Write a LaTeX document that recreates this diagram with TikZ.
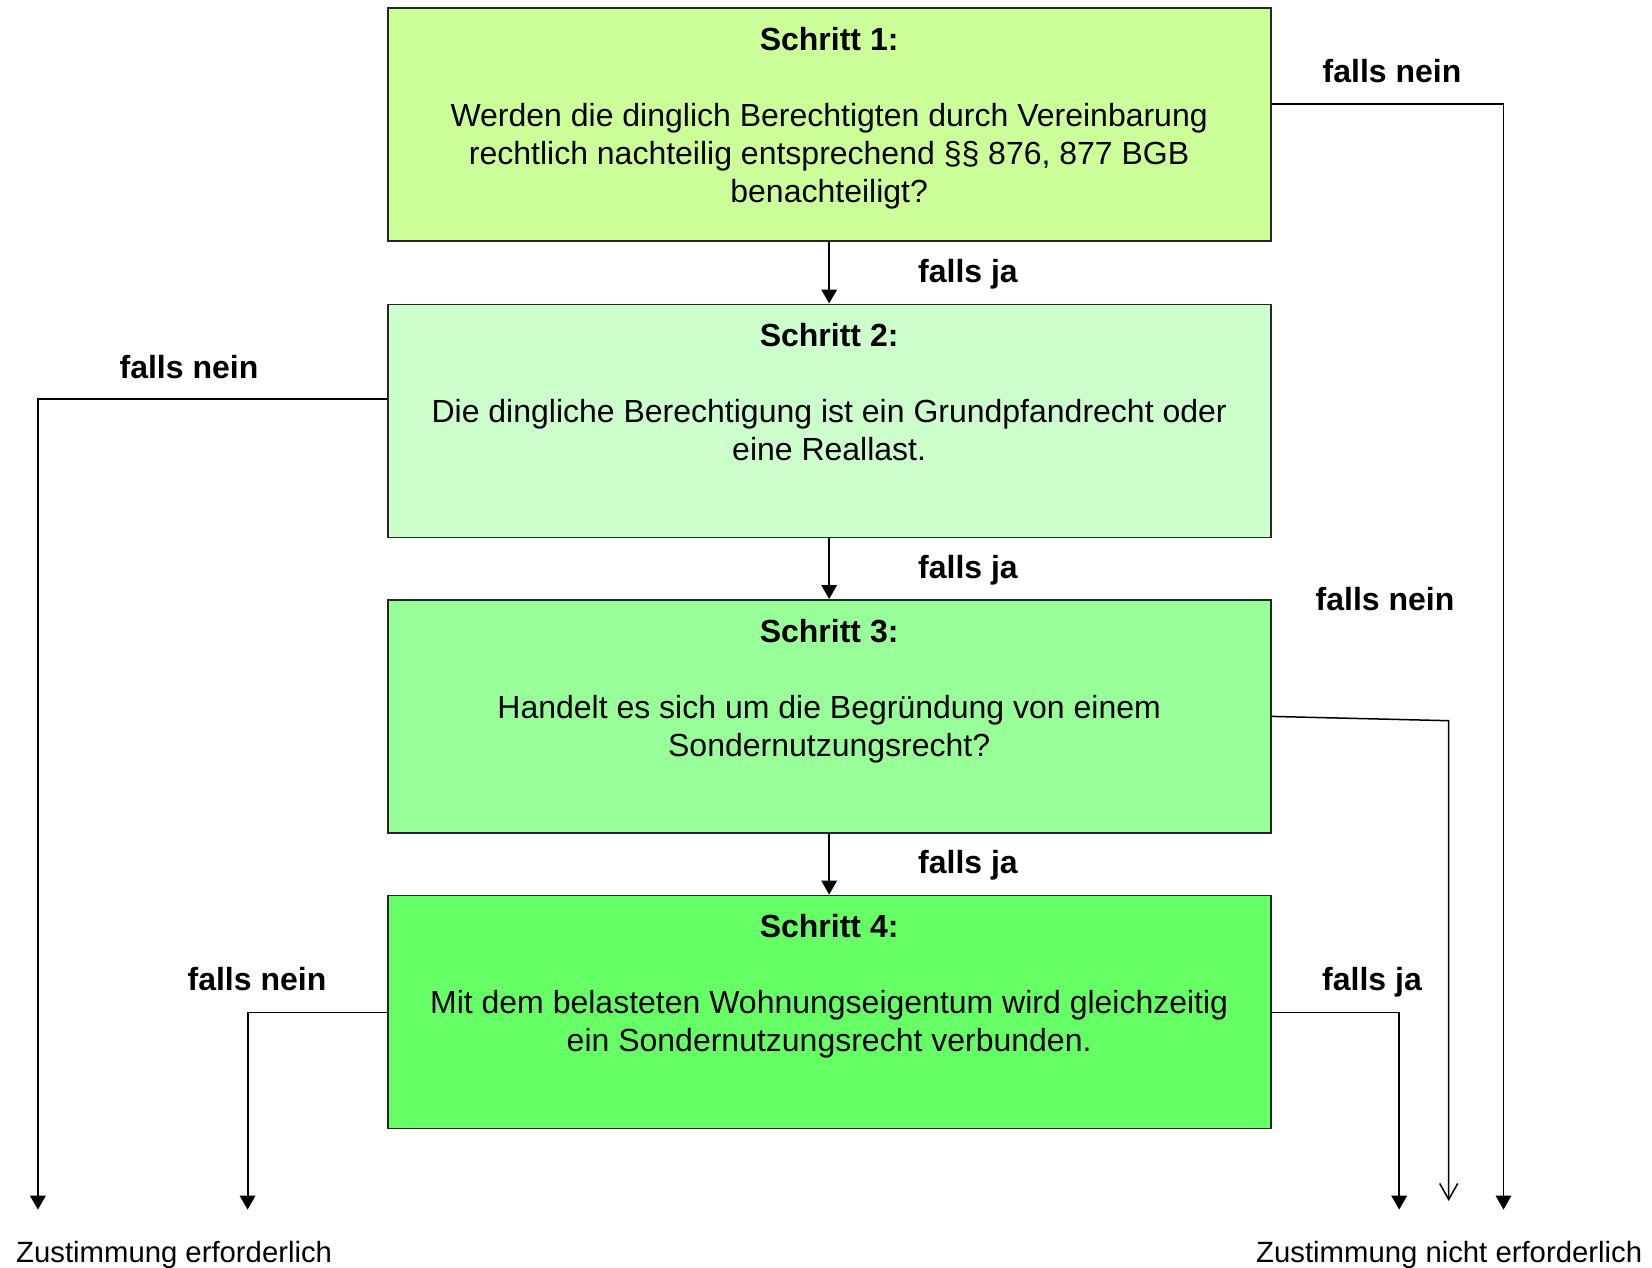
\documentclass[tikz,border=0pt]{standalone}
\usepackage{fontspec}
\setmainfont{Liberation Sans}
\usetikzlibrary{arrows.meta}
\definecolor{cA}{HTML}{CCFF99}
\definecolor{cB}{HTML}{CCFFCC}
\definecolor{cC}{HTML}{99FF99}
\definecolor{cD}{HTML}{66FF66}
\begin{document}
\begin{tikzpicture}[x=1pt,y=-1pt,
  box/.style={draw=black!85, line width=1.8pt, minimum width=883pt, minimum height=233pt, inner sep=0pt},
  boxtext/.style={align=center, inner sep=0pt, anchor=north, font=\fontsize{32}{38}\selectfont},
  lab/.style={inner sep=0pt, anchor=base, font=\fontsize{32}{38}\selectfont\bfseries},
  res/.style={inner sep=0pt, anchor=base west, font=\fontsize{29.3}{34}\selectfont},
  conn/.style={line width=1.8pt, -{Triangle[length=14pt,width=15.5pt]}},
  openconn/.style={line width=1.5pt, -{Straight Barb[length=16pt,width=18pt]}}
]
\fill[white] (0,0) rectangle (1652,1268);
\useasboundingbox (0,0) rectangle (1652,1268);

\node[box, fill=cA] (s1) at (829.15,124.85) {};
\node[box, fill=cB] (s2) at (829.15,420.9) {};
\node[box, fill=cC] (s3) at (829.15,716.4) {};
\node[box, fill=cD] (s4) at (829.15,1012.0) {};

\node[boxtext] (t1) at ([yshift=-16.5pt]s1.north) {\strut\textbf{Schritt 1:}\\[38pt]Werden die dinglich Berechtigten durch Vereinbarung\\rechtlich nachteilig entsprechend §§ 876, 877 BGB\\benachteiligt?};
\node[boxtext] (t2) at ([yshift=-16.5pt]s2.north) {\strut\textbf{Schritt 2:}\\[38pt]Die dingliche Berechtigung ist ein Grundpfandrecht oder\\eine Reallast.};
\node[boxtext] (t3) at ([yshift=-16.5pt]s3.north) {\strut\textbf{Schritt 3:}\\[38pt]Handelt es sich um die Begründung von einem\\Sondernutzungsrecht?};
\node[boxtext] (t4) at ([yshift=-16.5pt]s4.north) {\strut\textbf{Schritt 4:}\\[38pt]Mit dem belasteten Wohnungseigentum wird gleichzeitig\\ein Sondernutzungsrecht verbunden.};

\node[lab] (fj1) at (968,283) {falls ja};
\node[lab] (fj2) at (968,578) {falls ja};
\node[lab] (fj3) at (968,873) {falls ja};
\node[lab] (fn1) at (1392,83) {falls nein};
\node[lab] (fn2) at (189,378) {falls nein};
\node[lab] (fn3) at (1385,610) {falls nein};
\node[lab] (fn4) at (257,990) {falls nein};
\node[lab] (fj4) at (1372,990) {falls ja};

\node[res] (r1) at (16,1262) {Zustimmung erforderlich};
\node[res] (r2) at (1256,1262) {Zustimmung nicht erforderlich};

\coordinate (e1) at (1503.5,1209.6);
\coordinate (e2) at (37.9,1209.6);
\coordinate (k3) at (1448.7,720.7);
\coordinate (e3) at (1448.7,1201);
\coordinate (e4) at (247.6,1209.6);
\coordinate (e5) at (1399.2,1209.6);

\draw[conn] (s1.south) -- (s2.north);
\draw[conn] (s2.south) -- (s3.north);
\draw[conn] (s3.south) -- (s4.north);
\draw[conn] ([yshift=20.5pt]s1.east) -| (e1);
\draw[conn] ([yshift=21.6pt]s2.west) -| (e2);
\draw[openconn] (s3.east) -- (k3) -- (e3);
\draw[conn] ([yshift=-0.5pt]s4.west) -| (e4);
\draw[conn] ([yshift=-0.5pt]s4.east) -| (e5);
\end{tikzpicture}
\end{document}
